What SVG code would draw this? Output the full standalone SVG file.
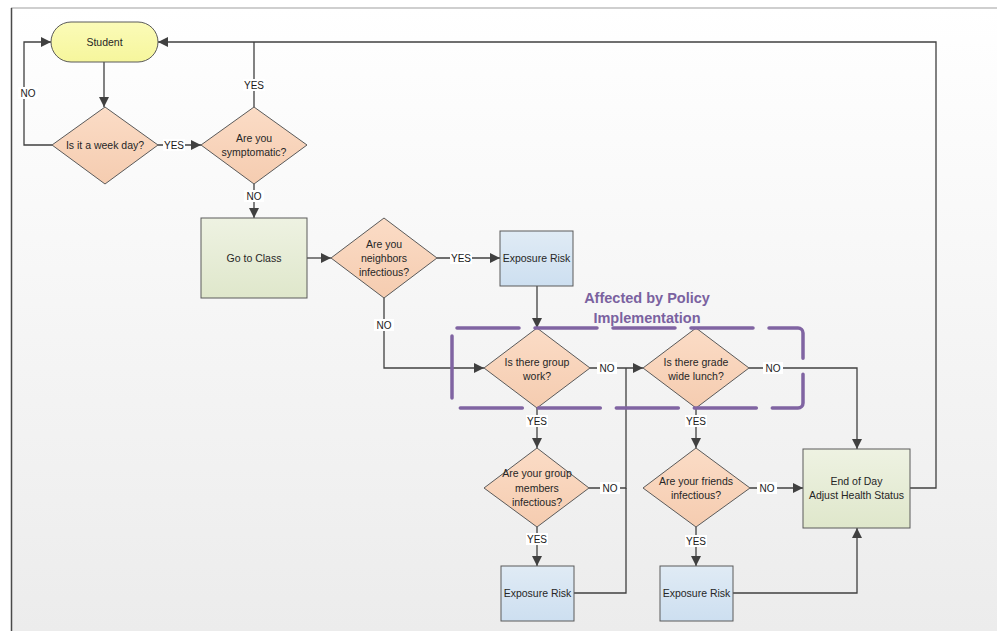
<svg xmlns="http://www.w3.org/2000/svg" width="997" height="631" viewBox="0 0 997 631">
<defs>
<linearGradient id="bg" x1="0" y1="0" x2="0" y2="1"><stop offset="0" stop-color="#ffffff"/><stop offset="1" stop-color="#ececec"/></linearGradient>
<linearGradient id="gY" x1="0" y1="0" x2="0" y2="1"><stop offset="0" stop-color="#fbfbb8"/><stop offset="1" stop-color="#f6f69c"/></linearGradient>
<linearGradient id="gP" x1="0" y1="0" x2="0" y2="1"><stop offset="0" stop-color="#fbdcc6"/><stop offset="1" stop-color="#f5ccb0"/></linearGradient>
<linearGradient id="gG" x1="0" y1="0" x2="0" y2="1"><stop offset="0" stop-color="#eef2e2"/><stop offset="1" stop-color="#dfe7cb"/></linearGradient>
<linearGradient id="gB" x1="0" y1="0" x2="0" y2="1"><stop offset="0" stop-color="#e0ebf5"/><stop offset="1" stop-color="#cddff0"/></linearGradient>
<marker id="ah" markerUnits="userSpaceOnUse" markerWidth="12" markerHeight="10" refX="10" refY="5" orient="auto"><path d="M0,0 L10,5 L0,10 Z" fill="#404040"/></marker>
<style>
.n{stroke:#5a5a5a;stroke-width:1}
.t{font-family:"Liberation Sans",Arial,sans-serif;font-size:10.5px;fill:#262626;text-anchor:middle}
.c{fill:none;stroke:#404040;stroke-width:1.3}
.a{marker-end:url(#ah)}
.lb{fill:#ffffff}
.l{font-family:"Liberation Sans",Arial,sans-serif;font-size:10px;fill:#1a1a1a;text-anchor:middle}
.pol{font-family:"Liberation Sans",Arial,sans-serif;font-size:14.5px;font-weight:bold;fill:#7a62a0;text-anchor:middle}
</style>
</defs>
<rect x="0" y="0" width="997" height="631" fill="#ffffff"/>
<rect x="11" y="8" width="986" height="623" fill="url(#bg)"/>
<line x1="11" y1="8" x2="997" y2="8" stroke="#a0a0a0" stroke-width="1.2"/>
<line x1="11.5" y1="8" x2="11.5" y2="631" stroke="#4a4a4a" stroke-width="1.5"/>

<g id="connectors">
<path class="c a" d="M104,62 V107"/>
<path class="c a" d="M52,145 H24 V42 H51"/>
<path class="c a" d="M158,145 H201"/>
<path class="c" d="M254,107 V42"/>
<path class="c a" d="M254,184 V218"/>
<path class="c a" d="M307,258 H331"/>
<path class="c a" d="M437,258 H500"/>
<path class="c a" d="M384,298 V368 H484"/>
<path class="c a" d="M537,286 V328"/>
<path class="c a" d="M590,368 H643"/>
<path class="c a" d="M537,408 V448"/>
<path class="c" d="M589,488 H626 V368"/>
<path class="c" d="M574,593 H626 V488"/>
<path class="c a" d="M537,527 V566"/>
<path class="c a" d="M696,408 V448"/>
<path class="c a" d="M749,368 H857 V449"/>
<path class="c a" d="M750,488 H803"/>
<path class="c a" d="M696,527 V566"/>
<path class="c a" d="M733,593 H857 V528"/>
<path class="c a" d="M910,488 H936 V42 H158"/>
<g id="labels">
<rect class="lb" x="18" y="87" width="20" height="12"/><text class="l" x="28" y="97">NO</text>
<rect class="lb" x="163" y="139" width="22" height="12"/><text class="l" x="174" y="149">YES</text>
<rect class="lb" x="243" y="79" width="22" height="12"/><text class="l" x="254" y="89">YES</text>
<rect class="lb" x="244" y="190" width="20" height="12"/><text class="l" x="254" y="200">NO</text>
<rect class="lb" x="450" y="252" width="22" height="12"/><text class="l" x="461" y="262">YES</text>
<rect class="lb" x="374" y="319" width="20" height="12"/><text class="l" x="384" y="329">NO</text>
<rect class="lb" x="597" y="362" width="20" height="12"/><text class="l" x="607" y="372">NO</text>
<rect class="lb" x="526" y="415" width="22" height="12"/><text class="l" x="537" y="425">YES</text>
<rect class="lb" x="600" y="482" width="20" height="12"/><text class="l" x="610" y="492">NO</text>
<rect class="lb" x="526" y="533" width="22" height="12"/><text class="l" x="537" y="543">YES</text>
<rect class="lb" x="685" y="415" width="22" height="12"/><text class="l" x="696" y="425">YES</text>
<rect class="lb" x="763" y="362" width="20" height="12"/><text class="l" x="773" y="372">NO</text>
<rect class="lb" x="757" y="482" width="20" height="12"/><text class="l" x="767" y="492">NO</text>
<rect class="lb" x="685" y="535" width="22" height="12"/><text class="l" x="696" y="545">YES</text>
</g>
</g>

<g id="student"><rect class="n" x="51" y="22" width="107" height="40" rx="20" fill="url(#gY)"/><text class="t" x="104.5" y="46">Student</text></g>
<g id="weekday"><polygon class="n" points="105,107 158,145 105,184 52,145" fill="url(#gP)"/><text class="t" x="105" y="149">Is it a week day?</text></g>
<g id="symptomatic"><polygon class="n" points="254,107 307,145 254,184 201,145" fill="url(#gP)"/><text class="t" x="254" y="142">Are you</text><text class="t" x="254" y="156">symptomatic?</text></g>
<g id="gotoclass"><rect class="n" x="201" y="218" width="106" height="80" fill="url(#gG)"/><text class="t" x="254" y="262">Go to Class</text></g>
<g id="neighbors"><polygon class="n" points="384,218 437,258 384,298 331,258" fill="url(#gP)"/><text class="t" x="384" y="248">Are you</text><text class="t" x="384" y="262">neighbors</text><text class="t" x="384" y="276">infectious?</text></g>
<g id="exposure1"><rect class="n" x="500" y="231" width="73" height="55" fill="url(#gB)"/><text class="t" x="536.5" y="262">Exposure Risk</text></g>
<g id="groupwork"><polygon class="n" points="537,328 590,368 537,408 484,368" fill="url(#gP)"/><text class="t" x="537" y="366">Is there group</text><text class="t" x="537" y="380">work?</text></g>
<g id="lunch"><polygon class="n" points="696,328 749,368 696,408 643,368" fill="url(#gP)"/><text class="t" x="696" y="366">Is there grade</text><text class="t" x="696" y="380">wide lunch?</text></g>
<g id="members"><polygon class="n" points="537,448 589,488 537,527 484,488" fill="url(#gP)"/><text class="t" x="537" y="477">Are your group</text><text class="t" x="537" y="492">members</text><text class="t" x="537" y="506">infectious?</text></g>
<g id="friends"><polygon class="n" points="696,448 750,488 696,527 643,488" fill="url(#gP)"/><text class="t" x="696" y="485">Are your friends</text><text class="t" x="696" y="499">infectious?</text></g>
<g id="exposure2"><rect class="n" x="501" y="566" width="73" height="55" fill="url(#gB)"/><text class="t" x="537.5" y="597">Exposure Risk</text></g>
<g id="exposure3"><rect class="n" x="660" y="566" width="73" height="55" fill="url(#gB)"/><text class="t" x="696.5" y="597">Exposure Risk</text></g>
<g id="endofday"><rect class="n" x="803" y="449" width="107" height="79" fill="url(#gG)"/><text class="t" x="856.5" y="485">End of Day</text><text class="t" x="856.5" y="499">Adjust Health Status</text></g>

<g id="policy">
<rect x="452" y="328" width="351" height="80" rx="5" fill="none" stroke="#8064a2" stroke-width="3.5" stroke-linecap="round" stroke-dasharray="62 16"/>
<text class="pol" x="647" y="303">Affected by Policy</text>
<text class="pol" x="647" y="323">Implementation</text>
</g>
</svg>
